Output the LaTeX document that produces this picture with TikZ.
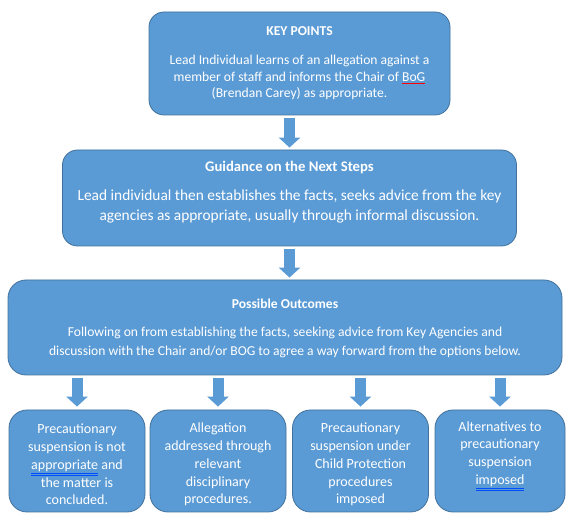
\documentclass[tikz,border=0pt]{standalone}
\usepackage{fontspec}
\setmainfont{Carlito}
\usetikzlibrary{arrows.meta}
\definecolor{boxfill}{HTML}{5B9BD5}
\definecolor{boxline}{HTML}{41719C}
\newcommand{\blueul}[1]{\textcolor{blue!70!cyan}{\underline{\underline{\textcolor{white}{#1}}}}}
\newcommand{\redul}[1]{\textcolor{red}{\underline{\textcolor{white}{#1}}}}
\begin{document}
\begin{tikzpicture}[x=1pt,y=-1pt,
  box/.style={draw=boxline, line width=0.8pt, fill=boxfill, rounded corners=15pt, inner sep=0pt},
  txt/.style={text=white, align=center, inner sep=0pt},
  blockarrow/.style={draw=boxfill, line width=11pt,
    -{Triangle[width=21pt,length=10pt]}}]
\useasboundingbox (0,0) rectangle (566,513);
% boxes
\node[box, minimum width=301pt, minimum height=103pt] (b1) at (299.5,63.5) {};
\node[box, minimum width=454pt, minimum height=96pt] (b2) at (289.5,198) {};
\node[box, minimum width=554pt, minimum height=95pt, rounded corners=18pt] (b3) at (285,327.5) {};
\begin{scope}[every node/.append style={box, minimum height=102pt, rounded corners=18pt}]
\node[minimum width=136pt] (o1) at (77,461) {};
\node[minimum width=136pt] (o2) at (218,461) {};
\node[minimum width=136pt] (o3) at (360.5,461) {};
\node[minimum width=130pt] (o4) at (500,461) {};
\end{scope}
% texts
\node[txt, font=\fontsize{13.6}{16.5}\selectfont] (t1) at (b1.center)
  {\textbf{KEY POINTS}\\[12.5pt]
   Lead Individual learns of an allegation against a\\
   member of staff and informs the Chair of \redul{BoG}\\
   (Brendan Carey) as appropriate.};
\node[txt, font=\fontsize{15.4}{20}\selectfont, yshift=5.5pt] (t2) at (b2.center)
  {{\fontsize{14.7}{20}\selectfont\textbf{Guidance on the Next Steps}}\\[9pt]
   Lead individual then establishes the facts, seeks advice from the key\\
   agencies as appropriate, usually through informal discussion.};
\node[txt, font=\fontsize{13.6}{18.8}\selectfont, yshift=-1pt] (t3) at (b3.center)
  {\textbf{Possible Outcomes}\\[9.5pt]
   Following on from establishing the facts, seeking advice from Key Agencies and\\
   discussion with the Chair and/or BOG to agree a way forward from the options below.};
\begin{scope}[every node/.append style={txt, font=\fontsize{14}{17.8}\selectfont}]
\node[yshift=-3.5pt] (u1) at (o1.center)
  {Precautionary\\ suspension is not\\ \blueul{appropriate} and\\ the matter is\\ concluded.};
\node[yshift=-3.5pt] (u2) at (o2.center)
  {Allegation\\ addressed through\\ relevant\\ disciplinary\\ procedures.};
\node[yshift=-3.5pt] (u3) at (o3.center)
  {Precautionary\\ suspension under\\ Child Protection\\ procedures\\ imposed};
\node[yshift=5pt] (u4) at (o4.center)
  {Alternatives to\\ precautionary\\ suspension\\ \blueul{imposed}};
\end{scope}
% arrows
\draw[blockarrow, shorten <=2.5pt, shorten >=2pt] (b2.north |- b1.south) -- (b2.north);
\draw[blockarrow, shorten <=2.5pt, shorten >=2pt] (b2.south) -- (b2.south |- b3.north);
\foreach \o in {o1,o2,o3,o4}
  \draw[blockarrow, shorten <=2.5pt, shorten >=3pt] (\o.north |- b3.south) -- (\o.north);
\end{tikzpicture}
\end{document}
